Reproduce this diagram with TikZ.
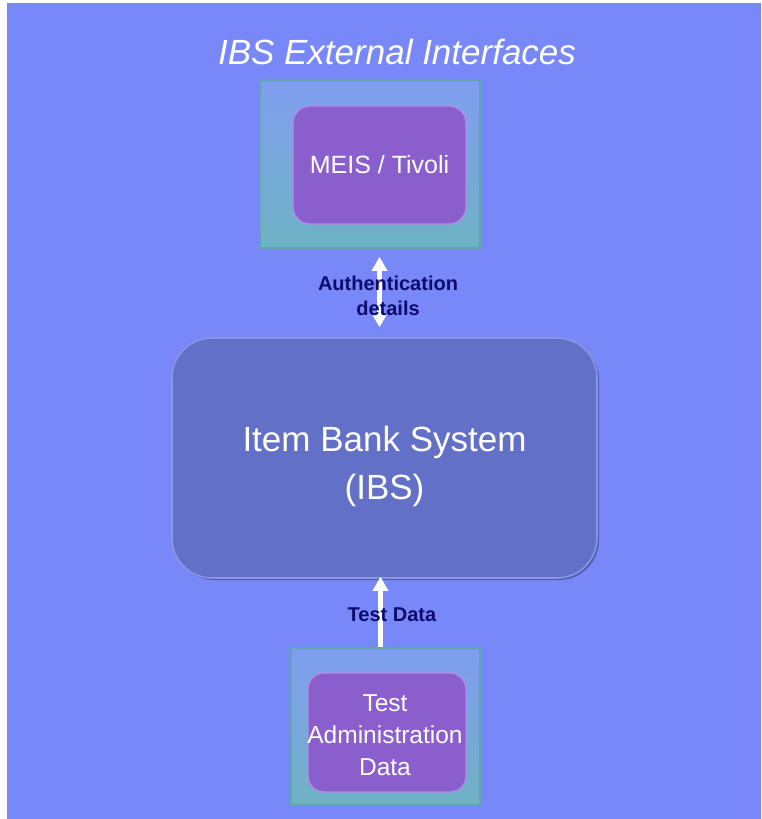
\documentclass[tikz,border=0pt]{standalone}
\usepackage{fontspec}
\setmainfont{Liberation Sans}
\usetikzlibrary{arrows.meta,shadings,calc}

\definecolor{bgblue}{RGB}{120,136,248}
\definecolor{frametop}{RGB}{128,158,240}
\definecolor{framebot}{RGB}{110,178,196}
\definecolor{frameline}{RGB}{96,166,176}
\definecolor{purplefill}{RGB}{138,94,204}
\definecolor{purpleline}{RGB}{176,140,232}
\definecolor{ibsfill}{RGB}{99,112,200}
\definecolor{ibsline}{RGB}{138,150,228}
\definecolor{ibsshadow}{RGB}{80,92,176}
\definecolor{navy}{RGB}{12,12,110}

\tikzset{
  framebox/.style={draw=frameline, line width=1.6pt, top color=frametop, bottom color=framebot},
  procbox/.style={draw=purpleline, line width=1.4pt, fill=purplefill, rounded corners=17pt,
    text=white, align=center},
  sysbox/.style={draw=ibsline, line width=1.6pt, fill=ibsfill, rounded corners=40pt},
  flow/.style={draw=white, line width=5pt},
  flowlabel/.style={text=navy, align=center, font=\bfseries\fontsize{20}{25}\selectfont},
}

\begin{document}
\begin{tikzpicture}[x=1pt,y=-1pt]
\useasboundingbox (0,0) rectangle (761,819);
\fill[white] (0,0) rectangle (761,819);
\fill[bgblue] (7,3) rectangle (761,819);

% heading
\node[text=white, font=\itshape\fontsize{35}{40}\selectfont] (title) at (397,52) {IBS External Interfaces};

% external interface at the top
\node[framebox, minimum width=220pt, minimum height=168pt] (extTop) at (370,164) {};
\node[procbox, minimum width=173pt, minimum height=118pt,
      font=\fontsize{25}{30}\selectfont] (meis) at (379.5,165) {MEIS / Tivoli};

% central system
\node[sysbox, draw=none, fill=ibsshadow, minimum width=425pt, minimum height=240pt] (ibsShade) at (386.5,460) {};
\node[sysbox, minimum width=425pt, minimum height=240pt] (ibs) at (384.5,458) {};
\node[text=white, align=center, font=\fontsize{35}{48}\selectfont] (ibsText) at (384.5,466)
  {Item Bank System\\(IBS)};

% external interface at the bottom
\node[framebox, minimum width=189pt, minimum height=157pt] (extBot) at (385.5,726.5) {};
\node[procbox, rounded corners=16pt, minimum width=158pt, minimum height=119pt] (tad) at (387,732.5) {};
\node[text=white, align=center, font=\fontsize{24.5}{32}\selectfont] (tadText) at (385,735.5)
  {Test\\Administration\\Data};

% data flows
\draw[flow, {Triangle[length=14pt,width=15pt]}-{Triangle[length=12pt,width=13pt]},
      shorten <=8pt, shorten >=10pt]
  (meis.south |- extTop.south) -- (meis.south |- ibs.north);
\draw[flow, -{Triangle[length=14pt,width=15pt]}, shorten >=-2pt]
  ([xshift=-5pt]extBot.north) -- ([xshift=-5pt]extBot.north |- ibs.south);

\node[flowlabel] (authLbl) at (388,296) {Authentication\\details};
\node[flowlabel] (testLbl) at (392,615) {Test Data};
\end{tikzpicture}
\end{document}
